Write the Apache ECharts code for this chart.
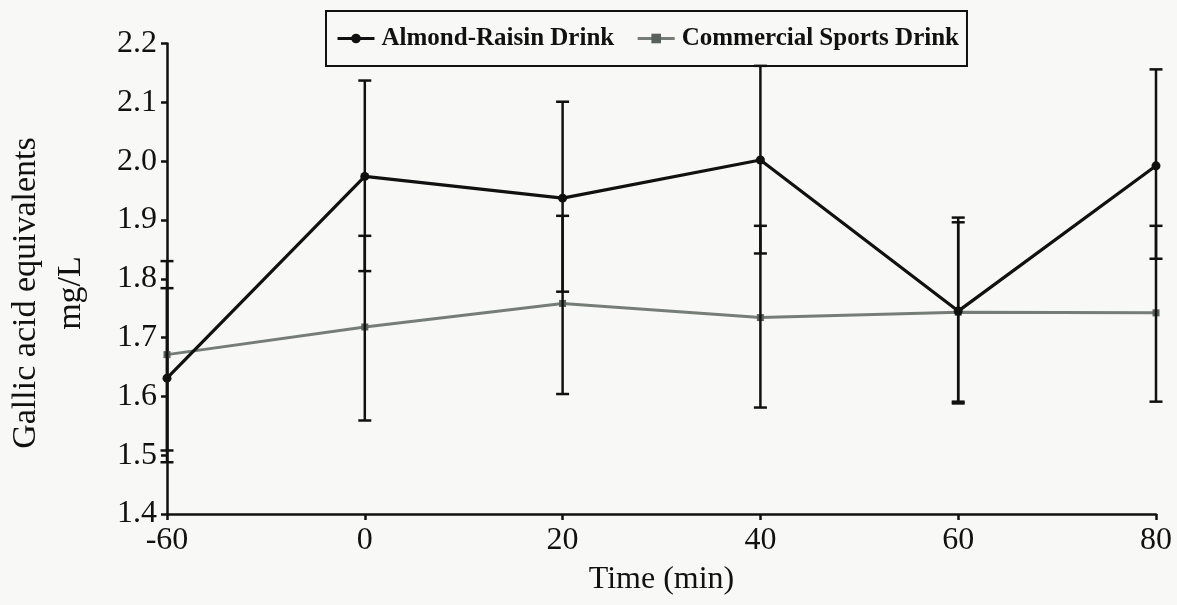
<!DOCTYPE html>
<html>
<head>
<meta charset="utf-8">
<script src="https://cdn.jsdelivr.net/npm/echarts@6/dist/echarts.min.js"></script>
<style>
html,body{margin:0;padding:0;background:#f8f8f6;}
#chart{width:1177px;height:605px;}
</style>
</head>
<body>
<div id="chart"></div>
<script>
var categories = ['-60', '0', '20', '40', '60', '80'];
var almondMean = [1.631, 1.974, 1.937, 2.002, 1.745, 1.992];
var almondUpper = [1.784, 2.137, 2.101, 2.162, 1.904, 2.156];
var almondLower = [1.488, 1.813, 1.778, 1.843, 1.588, 1.834];
var sportsMean = [1.671, 1.718, 1.758, 1.734, 1.743, 1.742];
var sportsUpper = [1.830, 1.873, 1.907, 1.890, 1.896, 1.890];
var sportsLower = [1.508, 1.559, 1.604, 1.581, 1.591, 1.591];

var FONT = '"Liberation Serif", "Times New Roman", serif';

function errData(lower, upper) {
  return categories.map(function (c, i) { return [i, lower[i], upper[i]]; });
}
function errRender(params, api) {
  var x = api.value(0);
  var lo = api.coord([x, api.value(1)]);
  var hi = api.coord([x, api.value(2)]);
  var hw = 6.5;
  var st = { stroke: '#111', lineWidth: 2.5 };
  return {
    type: 'group',
    children: [
      { type: 'line', shape: { x1: lo[0], y1: lo[1], x2: hi[0], y2: hi[1] }, style: st },
      { type: 'line', shape: { x1: hi[0] - hw, y1: hi[1], x2: hi[0] + hw, y2: hi[1] }, style: st },
      { type: 'line', shape: { x1: lo[0] - hw, y1: lo[1], x2: lo[0] + hw, y2: lo[1] }, style: st }
    ]
  };
}

var chart = echarts.init(document.getElementById('chart'));
chart.setOption({
  backgroundColor: '#f8f8f6',
  animation: false,
  grid: { left: 167, right: 21, top: 43.5, bottom: 91 },
  legend: {
    left: 326, top: 11,
    padding: [15, 8, 15, 10],
    itemGap: 22, itemWidth: 37, itemHeight: 12,
    borderColor: '#111', borderWidth: 2,
    backgroundColor: '#f8f8f6',
    lineStyle: { width: 3 },
    textStyle: { fontFamily: FONT, fontWeight: 'bold', fontSize: 25, color: '#111', padding: [0, 0, 0, 2] },
    data: ['Almond-Raisin Drink', 'Commercial Sports Drink']
  },
  xAxis: {
    type: 'category', data: categories, boundaryGap: false,
    axisLine: { lineStyle: { color: '#111', width: 2.5 } },
    axisTick: { show: true, length: 6, lineStyle: { color: '#111', width: 2.5 } },
    axisLabel: { fontFamily: FONT, fontSize: 32, color: '#111', margin: 11 },
    splitLine: { show: false },
    name: 'Time (min)', nameLocation: 'middle', nameGap: 50,
    nameTextStyle: { fontFamily: FONT, fontSize: 32, color: '#111' }
  },
  yAxis: {
    type: 'value', min: 1.4, max: 2.2, interval: 0.1,
    axisLine: { show: true, lineStyle: { color: '#111', width: 2.5 } },
    axisTick: { show: true, length: 6, lineStyle: { color: '#111', width: 2.5 } },
    axisLabel: { fontFamily: FONT, fontSize: 32, color: '#111', margin: 10,
      formatter: function (v) { return v.toFixed(1); } },
    splitLine: { show: false }
  },
  graphic: [{
    type: 'text', x: 49, y: 293, rotation: Math.PI / 2,
    style: {
      text: 'Gallic acid equivalents\nmg/L',
      fontFamily: FONT, fontSize: 34, lineHeight: 45, fill: '#111',
      align: 'center', verticalAlign: 'middle'
    }
  }],
  series: [
    {
      name: 'Commercial Sports Drink', type: 'line', data: sportsMean,
      symbol: 'rect', symbolSize: 7, showSymbol: true,
      lineStyle: { color: '#767d77', width: 3 },
      itemStyle: { color: '#5a605b' }, z: 3
    },
    {
      name: 'Almond-Raisin Drink', type: 'line', data: almondMean,
      symbol: 'circle', symbolSize: 9, showSymbol: true,
      lineStyle: { color: '#111', width: 3.2 },
      itemStyle: { color: '#111' }, z: 3
    },
    {
      type: 'custom', name: 'sportsErr', renderItem: errRender,
      data: errData(sportsLower, sportsUpper), encode: { x: 0, y: [1, 2] }, z: 4, silent: true
    },
    {
      type: 'custom', name: 'almondErr', renderItem: errRender,
      data: errData(almondLower, almondUpper), encode: { x: 0, y: [1, 2] }, z: 4, silent: true
    }
  ]
});
</script>
</body>
</html>
